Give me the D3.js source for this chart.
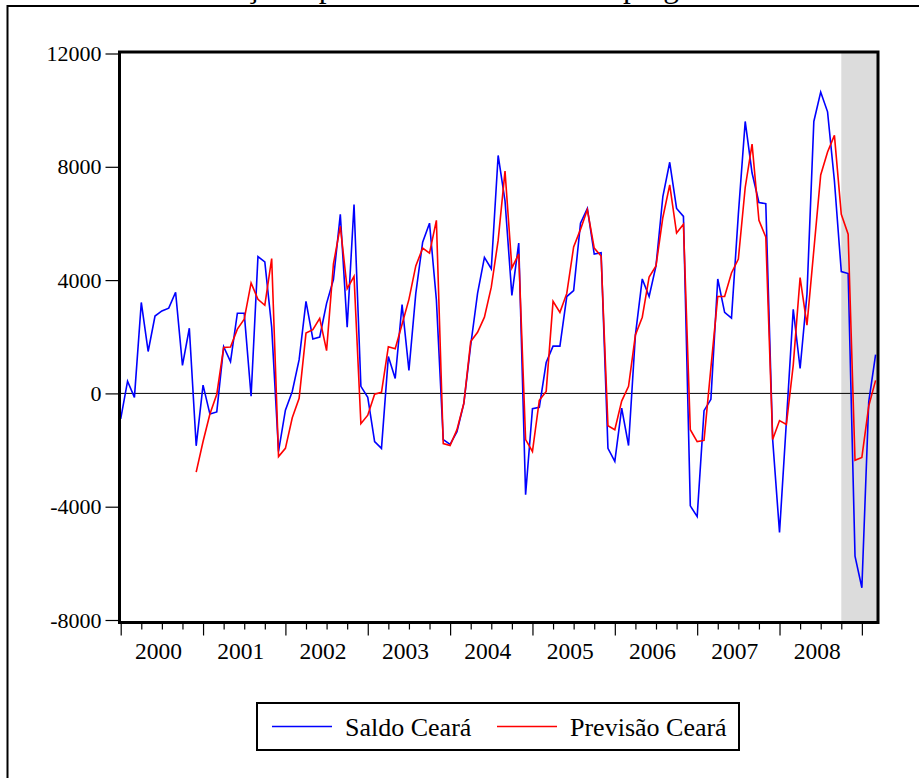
<!DOCTYPE html>
<html>
<head>
<meta charset="utf-8">
<script src="https://cdn.jsdelivr.net/npm/d3@7"></script>
<style>
  body { margin: 0; background: #fff; }
  svg { display: block; }
  text { font-family: "Liberation Serif", "Times New Roman", serif; fill: #000; }
</style>
</head>
<body>
<script>
// monthly data, Jan 2000 to Mar 2009
var startYear = 2000;
var meses = d3.range(111).map(function(i) {
  return (startYear + Math.floor(i / 12)) + 'M' + String(i % 12 + 1).padStart(2, '0');
});

// Saldo Ceará (blue), one value per month
var saldo = [
  -900, 430, -140, 3210, 1480, 2730, 2910, 3010, 3570, 990, 2300, -1850,
  290, -730, -655, 1650, 1120, 2830, 2830, -100, 4830, 4640, 2340, -2050,
  -590, 70, 1190, 3250, 1920, 1990, 3180, 4020, 6320, 2340, 6670, 250,
  -140, -1700, -1940, 1300, 530, 3140, 810, 3530, 5340, 6010, 3300, -1630,
  -1800, -1350, -350, 1700, 3530, 4800, 4400, 8400, 6800, 3460, 5310, -3580,
  -540, -490, 1090, 1670, 1670, 3420, 3630, 6010, 6530, 4920, 4970, -1940,
  -2400, -520, -1840, 2060, 4040, 3420, 4500, 6950, 8160, 6530, 6250, -3970,
  -4350, -610, -210, 4040, 2860, 2660, 6320, 9600, 7780, 6740, 6700, -1630,
  -4910, -1000, 2970, 880, 3500, 9600, 10640, 9940, 7500, 4300, 4230, -5750,
  -6860, -300, 1370
];

// Previsão Ceará (red), starts Dec 2000
var previsaoInicio = 11;
var previsao = [
  -2780,
  -1700, -730, -30, 1620, 1640, 2270, 2620, 3900, 3320, 3110, 4760, -2230,
  -1940, -860, -170, 2130, 2250, 2650, 1510, 4570, 5900, 3700, 4130, -1070,
  -770, -30, 40, 1650, 1580, 2440, 3320, 4500, 5130, 4950, 6110, -1770,
  -1840, -1280, -350, 1830, 2160, 2690, 3750, 5400, 7850, 4430, 4920, -1630,
  -2050, -240, 70, 3250, 2860, 3530, 5170, 5790, 6490, 5130, 4850, -1140,
  -1280, -270, 250, 2060, 2690, 4110, 4500, 6210, 7360, 5660, 5970, -1280,
  -1700, -1660, 900, 3420, 3420, 4250, 4740, 7270, 8800, 6110, 5520, -1630,
  -960, -1100, 1000, 4090, 2410, 5060, 7710, 8520, 9110, 6320, 5620, -2360,
  -2260, -450, 460
];

var anos = ['2000', '2001', '2002', '2003', '2004', '2005', '2006', '2007', '2008'];
var yTicks = [-8000, -4000, 0, 4000, 8000, 12000];
var sombraInicio = 105; // Oct 2008, forecast period

var svg = d3.select('body').append('svg')
  .attr('width', 919)
  .attr('height', 778);

// outer frame of the figure (runs off the picture)
svg.append('rect')
  .attr('x', 7.5).attr('y', 6)
  .attr('width', 930).attr('height', 800)
  .attr('fill', 'none').attr('stroke', '#000').attr('stroke-width', 2);

// title, cut off at the top like in the source figure
svg.append('text')
  .attr('x', 170).attr('y', -3.5)
  .style('font-size', '31.5px')
  .text('Evolução e previsão do saldo de emprego');

var x = d3.scaleLinear().domain([0, 110.35]).range([120.7, 878]);
var y = d3.scaleLinear().domain([-8000, 12000]).range([620, 53.5]);

// plot box edges
var esq = 119.5, dir = 878, topo = 52, base = 622.5;

// grey band for the forecast months
svg.append('rect')
  .attr('x', x(sombraInicio)).attr('y', topo)
  .attr('width', dir - x(sombraInicio)).attr('height', base - topo)
  .attr('fill', '#dcdcdc');

// zero line
svg.append('line')
  .attr('x1', esq).attr('x2', dir)
  .attr('y1', y(0)).attr('y2', y(0))
  .attr('stroke', '#000').attr('stroke-width', 1);

var line = d3.line()
  .x(function(d) { return x(d.i); })
  .y(function(d) { return y(d.v); });

var saldoPts = saldo.map(function(v, i) { return { i: i, v: v, mes: meses[i] }; });
var previsaoPts = previsao.map(function(v, k) {
  return { i: k + previsaoInicio, v: v, mes: meses[k + previsaoInicio] };
});

svg.append('path').datum(saldoPts)
  .attr('d', line)
  .attr('fill', 'none').attr('stroke', '#0000ff').attr('stroke-width', 1.6);

svg.append('path').datum(previsaoPts)
  .attr('d', line)
  .attr('fill', 'none').attr('stroke', '#ff0000').attr('stroke-width', 1.6);

// plot frame
svg.append('rect')
  .attr('x', esq).attr('y', topo)
  .attr('width', dir - esq).attr('height', base - topo)
  .attr('fill', 'none').attr('stroke', '#000').attr('stroke-width', 3);

// y axis
var yAxis = svg.append('g')
  .attr('transform', 'translate(' + (esq - 1) + ',0)')
  .call(d3.axisLeft(y).tickValues(yTicks).tickSize(13).tickPadding(4)
    .tickFormat(function(d) { return String(d); }));
yAxis.select('.domain').remove();
yAxis.selectAll('line').attr('stroke-width', 1.2);
yAxis.selectAll('text')
  .attr('font-family', null)
  .style('font-size', '22px');

// x axis: quarter ticks, longer ticks at the years
var trimestres = d3.range(0, 111, 3).filter(function(i) { return i % 12 !== 0; });
var viradas = d3.range(0, 111, 12);

var xMinor = svg.append('g')
  .attr('transform', 'translate(0,' + (base + 1) + ')')
  .call(d3.axisBottom(x).tickValues(trimestres).tickSize(6).tickFormat(''));
xMinor.select('.domain').remove();
xMinor.selectAll('line').attr('stroke-width', 1.2);

var xMajor = svg.append('g')
  .attr('transform', 'translate(0,' + (base + 1) + ')')
  .call(d3.axisBottom(x).tickValues(viradas).tickSize(12).tickFormat(''));
xMajor.select('.domain').remove();
xMajor.selectAll('line').attr('stroke-width', 1.2);

// year labels in the middle of each year
svg.append('g').selectAll('text')
  .data(anos)
  .enter()
  .append('text')
  .attr('x', function(d, i) { return x(i * 12 + 6) - 3.5; })
  .attr('y', 659)
  .attr('text-anchor', 'middle')
  .style('font-size', '23.5px')
  .text(function(d) { return d; });

// legend
var legenda = [
  { nome: 'Saldo Ceará', cor: '#0000ff', x0: 272, tx: 345 },
  { nome: 'Previsão Ceará', cor: '#ff0000', x0: 497, tx: 570 }
];

svg.append('rect')
  .attr('x', 257).attr('y', 703)
  .attr('width', 482).attr('height', 47)
  .attr('fill', '#fff').attr('stroke', '#000').attr('stroke-width', 2);

var itens = svg.selectAll('.leg').data(legenda).enter().append('g').attr('class', 'leg');
itens.append('line')
  .attr('x1', function(d) { return d.x0; })
  .attr('x2', function(d) { return d.x0 + 60; })
  .attr('y1', 726.5).attr('y2', 726.5)
  .attr('stroke', function(d) { return d.cor; })
  .attr('stroke-width', 1.6);
itens.append('text')
  .attr('x', function(d) { return d.tx; })
  .attr('y', 735.5)
  .style('font-size', '26px')
  .text(function(d) { return d.nome; });
</script>
</body>
</html>
